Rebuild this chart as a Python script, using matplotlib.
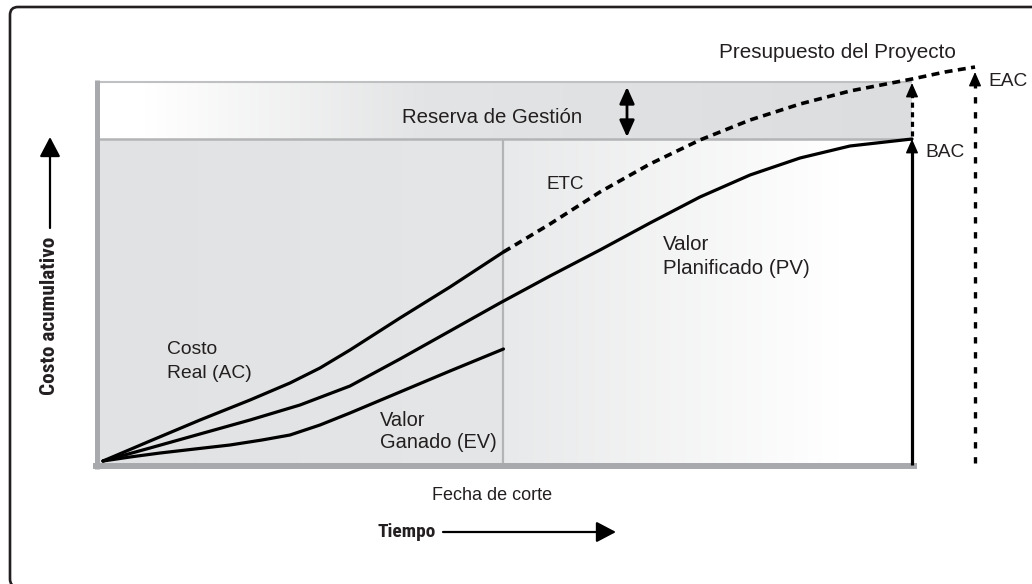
import numpy as np
import matplotlib
matplotlib.use("Agg")
import matplotlib.pyplot as plt
from matplotlib.patches import FancyBboxPatch, FancyArrowPatch
from matplotlib.colors import to_rgb
from matplotlib.transforms import IdentityTransform
from matplotlib import font_manager

# ---------------- data (time: % of planned duration, cost: % of BAC) ----------------
ac_time = [0, 5.81, 11.99, 18.17, 23.11, 26.82, 30.53, 36.71, 42.89, 49.5]
ac_cost = [0, 6.21, 12.73, 18.94, 24.22, 28.88, 34.47, 44.41, 54.04, 64.91]

ev_time = [0, 3.34, 7.05, 11.37, 15.70, 19.65, 23.11, 26.82, 30.53, 36.71, 42.89, 49.5]
ev_cost = [0, 1.24, 2.48, 3.73, 4.97, 6.52, 8.07, 11.18, 14.91, 21.43, 27.95, 34.78]

pv_time = [0, 5.81, 11.99, 18.17, 24.35, 30.53, 36.71, 42.89, 49.07, 55.25,
           61.43, 67.61, 73.79, 79.98, 86.16, 92.34, 100]
pv_cost = [0, 4.04, 8.39, 12.73, 17.39, 23.29, 31.68, 40.37, 49.07, 57.45,
           65.53, 73.91, 81.99, 88.82, 94.10, 97.83, 100]

etc_time = [49.5, 55.25, 61.43, 67.61, 73.79, 79.98, 86.16, 92.34, 100, 104.08, 107.79]
etc_cost = [64.91, 73.60, 83.54, 92.24, 99.69, 105.90, 110.87, 114.91, 118.63, 120.81, 122.36]

status_date = 49.5           # Fecha de corte
bac = 100.0                  # BAC
project_budget = 117.7       # BAC + Reserva de Gestión
eac = etc_cost[-1]
eac_time = etc_time[-1]
end_time = pv_time[-1]

labels = {
    "budget": "Presupuesto del Proyecto",
    "reserve": "Reserva de Gestión",
    "eac": "EAC", "bac": "BAC", "etc": "ETC",
    "pv": ("Valor", "Planificado (PV)"),
    "ac": ("Costo", "Real (AC)"),
    "ev": ("Valor", "Ganado (EV)"),
    "cut": "Fecha de corte",
    "x": "Tiempo",
    "y": "Costo acumulativo",
}

# ---------------- layout ----------------
W, H = 1032, 584
fig = plt.figure(figsize=(W / 100, H / 100), dpi=100)
ax = fig.add_axes([0, 0, 1, 1])
ax.axis("off")

X0, Y0 = 103, 461          # pixel of origin
SX, SY = 8.09, 3.22        # pixels per data unit


def P(x, y):
    return ((x - X0) / SX, (Y0 - y) / SY)


def px_x(x):
    return (x - X0) / SX


def px_y(y):
    return (Y0 - y) / SY


INK = "#231f20"
avail = {f.name for f in font_manager.fontManager.ttflist}
REG = "Liberation Sans" if "Liberation Sans" in avail else "DejaVu Sans"
BOLD = REG
for cand in ["Roboto Condensed", "Barlow Condensed", "Liberation Sans Narrow", "Archivo Narrow"]:
    if cand in avail:
        BOLD = cand
        break

# ---------------- backgrounds (gradients) ----------------

def hgrad(x0, x1, y0, y1, stops, z=0):
    xs = np.linspace(0, 1, 600)
    pos = [s[0] for s in stops]
    cols = np.array([to_rgb(s[1]) for s in stops])
    img = np.stack([np.interp(xs, pos, cols[:, k]) for k in range(3)], axis=-1)[None, :, :]
    ax.imshow(img, extent=(x0, x1, y0, y1), aspect="auto",
              interpolation="bilinear", zorder=z)

left_edge = px_x(97)
bottom_edge = px_y(463)
hgrad(left_edge, status_date, bottom_edge, bac,
      [(0, "#e1e2e3"), (1, "#e5e6e7")])
hgrad(status_date, end_time, bottom_edge, bac,
      [(0, "#e8e9ea"), (0.82, "#ffffff"), (1, "#ffffff")])
hgrad(left_edge, end_time, bac, project_budget,
      [(0, "#ffffff"), (0.06, "#ffffff"), (0.40, "#e3e4e5"), (1, "#dcdddf")])

# frame lines
ax.plot([left_edge, end_time], [project_budget] * 2, color="#bfc0c2", lw=1.5, zorder=1,
        solid_capstyle="butt")
ax.plot([left_edge, end_time], [bac] * 2, color="#b2b4b6", lw=1.8, zorder=1,
        solid_capstyle="butt")
ax.plot([status_date] * 2, [bottom_edge, bac], color="#b2b4b6", lw=1.6, zorder=1,
        solid_capstyle="butt")
ax.plot([px_x(96.8)] * 2, [px_y(469), px_y(80)], color="#a7a9ac", lw=3.6, zorder=2,
        solid_capstyle="butt")
ax.plot([px_x(93), px_x(917)], [px_y(466)] * 2, color="#a7a9ac", lw=4.3, zorder=2,
        solid_capstyle="butt")

# ---------------- curves ----------------
ax.plot(ac_time, ac_cost, color="black", lw=2.3, zorder=5, solid_capstyle="round",
        solid_joinstyle="round")
ax.plot(ev_time, ev_cost, color="black", lw=2.3, zorder=5, solid_capstyle="round",
        solid_joinstyle="round")
ax.plot(pv_time, pv_cost, color="black", lw=2.3, zorder=5, solid_capstyle="round",
        solid_joinstyle="round")
ax.plot(etc_time, etc_cost, color="black", lw=2.6, zorder=5,
        linestyle=(0, (2.2, 1.5)), dash_capstyle="butt")

# ---------------- arrows ----------------

def head(x, y_tip, length_px, half_w_pt, lw=1.0, z=6):
    a = FancyArrowPatch((x, y_tip - length_px / SY), (x, y_tip),
                        arrowstyle=f"-|>,head_length={length_px * 0.72},head_width={half_w_pt}",
                        mutation_scale=1, color="black", lw=lw, shrinkA=0, shrinkB=0, zorder=z)
    ax.add_patch(a)

# BAC solid arrow
ax.plot([end_time] * 2, [px_y(465), bac - 8 / SY], color="black", lw=2.3, zorder=6,
        solid_capstyle="butt")
head(end_time, bac, 12, 3.8)
# dashed arrow BAC -> project budget
ax.plot([end_time] * 2, [bac + 1, project_budget - 8 / SY], color="black", lw=2.3, zorder=6,
        linestyle=(0, (1.6, 1.4)), dash_capstyle="butt")
head(end_time, project_budget - 1 / SY, 12, 3.8)
# EAC dotted arrow
ax.plot([eac_time] * 2, [px_y(463), eac - 12 / SY], color="black", lw=2.4, zorder=6,
        linestyle=(0, (1.9, 2.6)), dash_capstyle="butt")
head(eac_time, eac - 5 / SY, 12, 3.8)
# reserve double arrow
xr = px_x(627)
ax.add_patch(FancyArrowPatch((xr, px_y(137)), (xr, px_y(87)),
                             arrowstyle="<|-|>,head_length=10,head_width=4.5",
                             mutation_scale=1, color="black", lw=2.0,
                             shrinkA=0, shrinkB=0, zorder=6))
# axis-title arrows
ax.add_patch(FancyArrowPatch(P(50, 228), P(50, 137),
                             arrowstyle="-|>,head_length=12,head_width=6.3",
                             mutation_scale=1, color="black", lw=1.6,
                             shrinkA=0, shrinkB=0, zorder=6))
ax.add_patch(FancyArrowPatch(P(443, 532), P(616, 532),
                             arrowstyle="-|>,head_length=12,head_width=6.3",
                             mutation_scale=1, color="black", lw=1.6,
                             shrinkA=0, shrinkB=0, zorder=6))

# outer rounded frame (pixel coordinates)
frame = FancyBboxPatch((10, -3), 1060, 577 + 3,
                       boxstyle="round,pad=0,rounding_size=8",
                       transform=IdentityTransform(), fill=False,
                       edgecolor=INK, lw=1.9, zorder=10, clip_on=False)
fig.patches.append(frame)

# ---------------- texts ----------------
renderer = fig.canvas.get_renderer()


def fit(xpx, ypx, s, wpx, family=REG, weight="normal", size=None, **kw):
    t = ax.text(*P(xpx, ypx), s, fontsize=10, family=family, weight=weight,
                color=INK, ha="left", va="center", zorder=8, **kw)
    if size is None:
        w = t.get_window_extent(renderer).width
        size = 10 * wpx / w
    t.set_fontsize(size)
    return size

fit(719, 52, labels["budget"], 237)
fit(988, 81, labels["eac"], 0, size=13.8)
fit(925, 152, labels["bac"], 0, size=13.8)
fit(402, 117, labels["reserve"], 181)
fit(546, 184, labels["etc"], 0, size=13.6)
s = fit(663, 268, labels["pv"][1], 148)
fit(663, 244, labels["pv"][0], 0, size=s)
s = fit(167, 373, labels["ac"][1], 85)
fit(167, 350, labels["ac"][0], 0, size=s)
s = fit(380, 443, labels["ev"][1], 117)
fit(380, 421, labels["ev"][0], 0, size=s)
fit(432, 495, labels["cut"], 121)
fit(377, 532, labels["x"], 58, family=BOLD, weight="bold")

ty = ax.text(*P(50, 316), labels["y"], fontsize=10, family=BOLD, weight="bold",
             color=INK, ha="center", va="center", zorder=8)
wy = ty.get_window_extent(renderer).width
ty.set_fontsize(10 * 158 / wy)
ty.set_rotation(90)

ax.set_xlim(-X0 / SX, (W - X0) / SX)
ax.set_ylim((Y0 - H) / SY, Y0 / SY)

fig.savefig("out.png", dpi=100, facecolor="white")
